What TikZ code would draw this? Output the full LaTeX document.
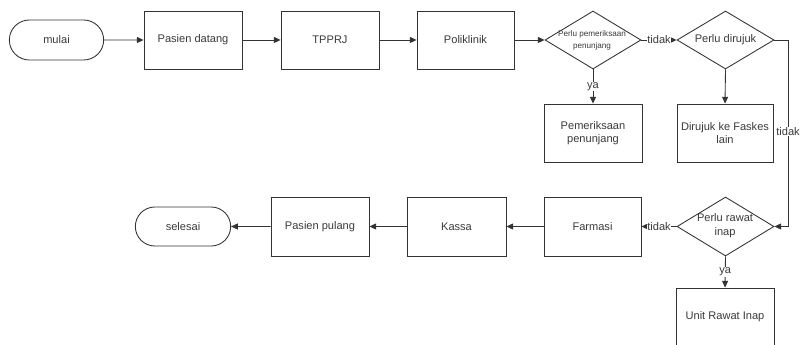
\documentclass[tikz,border=0pt]{standalone}
\usepackage{fontspec}
\setmainfont{Liberation Sans}
\usetikzlibrary{shapes.geometric,shapes.misc,arrows.meta}
\definecolor{ln}{HTML}{333333}
\definecolor{tx}{HTML}{3A3A3A}
\tikzset{
  box/.style={draw=ln, line width=0.65pt, rectangle, inner sep=1pt, align=center, text=tx, font=\fontsize{8.3}{9.6}\selectfont},
  term/.style={draw=ln, line width=0.65pt, rounded rectangle, inner sep=1pt, align=center, text=tx, font=\fontsize{8.3}{9.6}\selectfont},
  dia/.style={draw=ln, line width=0.65pt, diamond, inner sep=0pt},
  dtext/.style={align=center, text=tx, inner sep=0pt},
  conn/.style={draw=ln, line width=0.65pt, -{Triangle[length=5pt,width=4.5pt]}},
  lab/.style={fill=white, inner sep=0.6pt, text=tx, font=\fontsize{8.3}{9.6}\selectfont}
}
\begin{document}
\begin{tikzpicture}[x=0.75pt,y=-0.75pt]
\useasboundingbox (0,0) rectangle (802,345);
\node[term, minimum width=97*0.75pt, minimum height=40*0.75pt] (mulai) at (56.5,40) {mulai};
\node[box, minimum width=98*0.75pt, minimum height=58*0.75pt] (pasien) at (193,40) {Pasien datang};
\node[box, minimum width=98*0.75pt, minimum height=58*0.75pt] (tpprj) at (330,40) {TPPRJ};
\node[box, minimum width=97*0.75pt, minimum height=58*0.75pt] (poli) at (465.5,40) {Poliklinik};
\node[dia, minimum width=96*0.75pt, minimum height=58*0.75pt] (d1) at (593,40) {};
\node[dtext, font=\fontsize{6.1}{8.6}\selectfont] (d1t) at (592,40.5) {Perlu pemeriksaan\\penunjang};
\node[dia, minimum width=97*0.75pt, minimum height=58*0.75pt] (d2) at (725.5,40) {};
\node[dtext, font=\fontsize{8.3}{9.6}\selectfont] (d2t) at (725.5,39.5) {Perlu dirujuk};
\node[box, minimum width=98*0.75pt, minimum height=58*0.75pt] (pem) at (593,133) {Pemeriksaan\\penunjang};
\node[box, minimum width=96*0.75pt, minimum height=58*0.75pt] (dirujuk) at (725,133) {Dirujuk ke Faskes\\lain};
\node[dia, minimum width=97*0.75pt, minimum height=59*0.75pt] (d3) at (725.5,226.5) {};
\node[dtext, font=\fontsize{8.3}{10.5}\selectfont] (d3t) at (725,226) {Perlu rawat\\inap};
\node[box, minimum width=97*0.75pt, minimum height=59*0.75pt] (farmasi) at (592.5,226.5) {Farmasi};
\node[box, minimum width=99*0.75pt, minimum height=59*0.75pt] (kassa) at (456.5,226.5) {Kassa};
\node[box, minimum width=98*0.75pt, minimum height=59*0.75pt] (pulang) at (320,226.5) {Pasien pulang};
\node[term, minimum width=98*0.75pt, minimum height=39*0.75pt] (selesai) at (183,226.5) {selesai};
\node[box, minimum width=98*0.75pt, minimum height=58*0.75pt] (unit) at (725,317) {Unit Rawat Inap};
\coordinate (c1) at (788,40);
\coordinate (c2) at (788,226.5);
\draw[conn] (mulai) -- (pasien);
\draw[conn] (pasien) -- (tpprj);
\draw[conn] (tpprj) -- (poli);
\draw[conn] (poli) -- (d1);
\draw[conn] (d1.east) -- node[lab] (t1) {tidak} (d2.west);
\draw[conn] (d1.south) -- node[lab] (y1) {ya} (pem.north);
\draw[conn] (d2.south) -- (dirujuk.north);
\draw[conn] (d2.east) -- (c1) -- node[lab, pos=0.49] (t2) {tidak} (c2) -- (d3.east);
\draw[conn] (d3.west) -- node[lab] (t3) {tidak} (farmasi.east);
\draw[conn] (farmasi) -- (kassa);
\draw[conn] (kassa) -- (pulang);
\draw[conn] (pulang) -- (selesai);
\draw[conn] (d3.south) -- node[lab] (y2) {ya} (unit.north);
\end{tikzpicture}
\end{document}
